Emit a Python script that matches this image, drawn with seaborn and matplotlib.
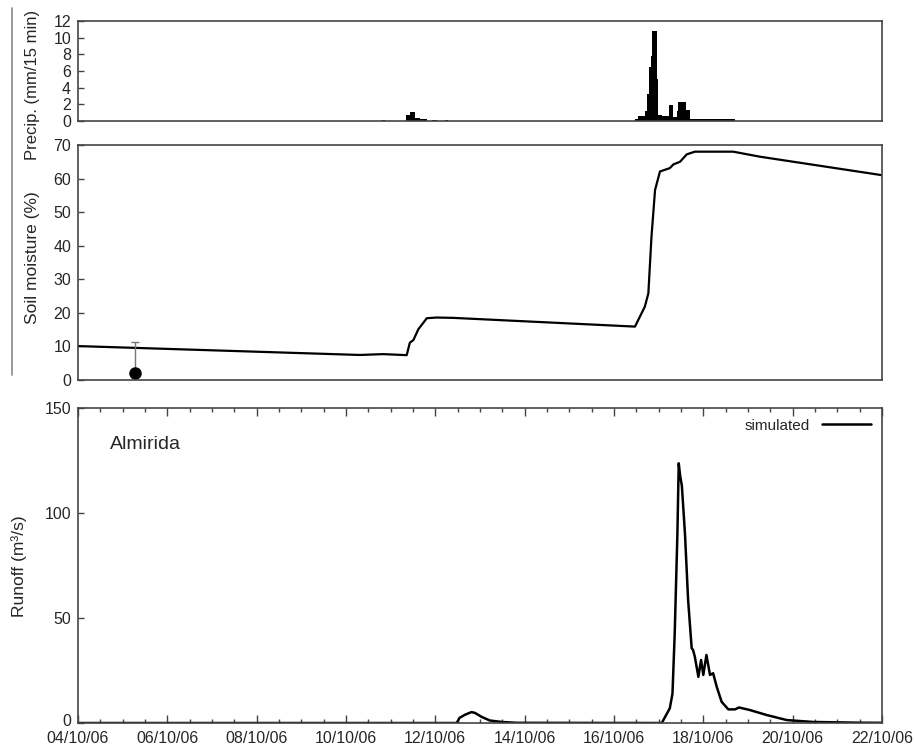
import matplotlib
matplotlib.use("Agg")
import matplotlib.pyplot as plt
import matplotlib.dates as mdates
import matplotlib.transforms as mtransforms
from matplotlib.lines import Line2D
import seaborn as sns
import pandas as pd
import numpy as np

# time origin of the record
start = pd.Timestamp("2006-10-04 00:00")
end = pd.Timestamp("2006-10-22 00:00")

# precipitation, step values (hours since start, mm/15 min)
precip_hours = [0, 163.2, 165.0, 176.2, 178.4, 181.1, 183.8, 187.4, 190.0, 192.7,
                197.2, 199.0, 299.3, 301.1, 304.7, 305.6, 306.8, 307.9, 308.6,
                311.0, 311.8, 313.6, 317.7, 319.9, 321.7, 322.6, 326.5, 328.9,
                331.9, 334.2, 344.0, 346.0, 353.0, 432.0]
precip_mm = [0, 0.1, 0, 0.7, 1.1, 0.35, 0.3, 0, 0.08, 0,
             0.08, 0, 0.3, 0.6, 1.2, 3.2, 6.5, 7.8, 10.8,
             5.1, 0.7, 0.6, 1.9, 0.5, 1.2, 2.3, 1.3, 0.3,
             0.2, 0.2, 0.3, 0.2, 0, 0]

# soil moisture (days since start, %)
soil_days = [0, 6.31, 6.83, 7.36, 7.43, 7.51, 7.62, 7.81, 8.03, 8.40, 12.47,
             12.69, 12.77, 12.84, 12.92, 13.03, 13.25, 13.33, 13.48, 13.63,
             13.81, 14.67, 15.27, 18.0]
soil_pct = [10.1, 7.45, 7.7, 7.4, 11.1, 11.9, 15.1, 18.4, 18.6, 18.5, 15.9,
            21.8, 25.8, 42.7, 56.6, 62.1, 63.1, 64.2, 65.0, 67.2,
            68.0, 68.0, 66.5, 61.0]

# observed soil moisture with error
obs_day = [1.28]
obs_pct = [2.2]
obs_err = [9.0]

# simulated runoff (days since start, m3/s)
runoff_days = [0, 8.48, 8.54, 8.66, 8.81, 8.89, 9.04, 9.22, 9.49, 9.82, 13.07,
               13.25, 13.31, 13.36, 13.42, 13.45, 13.48, 13.52, 13.59, 13.66,
               13.74, 13.77, 13.81, 13.89, 13.95, 14.00, 14.07, 14.15, 14.22,
               14.30, 14.41, 14.56, 14.71, 14.80, 15.04, 15.42, 15.87, 16.46,
               17.51, 18.0]
runoff_m3s = [0, 0, 2.4, 3.9, 5.2, 4.8, 2.9, 1.2, 0.5, 0.1, 0,
              7.0, 14.0, 42.7, 90.0, 123.7, 118.0, 113.0, 90.0, 58.6,
              35.6, 34.8, 31.6, 22.0, 30.0, 22.9, 32.4, 22.9, 23.7,
              17.3, 10.1, 6.5, 6.5, 7.4, 6.2, 3.8, 1.4, 0.5,
              0.15, 0.1]

precip = pd.DataFrame({"time": start + pd.to_timedelta(precip_hours, unit="h"),
                       "mm": precip_mm})
soil = pd.DataFrame({"time": start + pd.to_timedelta(soil_days, unit="D"),
                     "pct": soil_pct})
runoff = pd.DataFrame({"time": start + pd.to_timedelta(runoff_days, unit="D"),
                       "q": runoff_m3s})
obs_time = start + pd.to_timedelta(obs_day, unit="D")

sns.set_theme(style="ticks")
plt.rcParams["font.family"] = ["Liberation Sans", "DejaVu Sans"]
plt.rcParams["axes.edgecolor"] = "#444444"
plt.rcParams["axes.linewidth"] = 1.2
plt.rcParams["xtick.direction"] = "in"
plt.rcParams["ytick.direction"] = "in"

fig = plt.figure(figsize=(9.15, 7.48), dpi=100)
ax1 = fig.add_axes([0.0852, 0.8382, 0.8787, 0.1337])
ax2 = fig.add_axes([0.0852, 0.4920, 0.8787, 0.3142])
ax3 = fig.add_axes([0.0852, 0.0334, 0.8787, 0.4211])

# precipitation bars
ax1.fill_between(precip["time"], precip["mm"], step="post", color="black", linewidth=0)
ax1.set_ylim(0, 12)
ax1.set_yticks(range(0, 13, 2))
ax1.set_ylabel("Precip. (mm/15 min)", fontsize=12)
ax1.yaxis.set_label_coords(-0.047, 0.36)

# soil moisture
sns.lineplot(data=soil, x="time", y="pct", ax=ax2, color="black", linewidth=1.6)
ax2.errorbar(obs_time, obs_pct, yerr=obs_err, fmt="o", color="black", markersize=8,
             ecolor="#777777", elinewidth=1, capsize=3, capthick=1)
ax2.set_ylim(0, 70)
ax2.set_yticks(range(0, 71, 10))
ax2.set_ylabel("Soil moisture (%)", fontsize=12.5)
ax2.yaxis.set_label_coords(-0.047, 0.52)

# runoff
sns.lineplot(data=runoff, x="time", y="q", ax=ax3, color="black", linewidth=1.8,
             label="simulated")
ax3.set_ylim(0, 150)
ax3.set_yticks([0, 50, 100, 150])
ax3.set_ylabel("Runoff (m\u00b3/s)", fontsize=12.5)
ax3.yaxis.set_label_coords(-0.063, 0.498)
ax3.text(0.04, 0.883, "Almirida", transform=ax3.transAxes, fontsize=14, va="center")
leg = ax3.legend(loc="upper right", frameon=False, markerfirst=False, fontsize=11,
                 handlelength=3.2, borderaxespad=0.3)

for ax in (ax1, ax2, ax3):
    ax.set_xlim(start, end)
    ax.set_xlabel("")
    ax.tick_params(axis="y", labelsize=11.5, length=4, width=1, color="#444444", pad=5)

for ax in (ax1, ax2):
    ax.tick_params(axis="x", which="both", bottom=False, top=False, labelbottom=False)

ax3.xaxis.set_major_locator(mdates.DayLocator(interval=2))
ax3.xaxis.set_minor_locator(mdates.HourLocator(byhour=[0, 12]))
ax3.xaxis.set_major_formatter(mdates.DateFormatter("%d/%m/%y"))
ax3.tick_params(axis="x", which="major", top=True, length=6, width=1,
                color="#444444", labelsize=11.5, pad=5.5)
ax3.tick_params(axis="x", which="minor", top=True, length=3, width=1, color="#444444")

# nudge the bottom "0" up a little so it clears the first date label
zero_lab = ax3.yaxis.get_major_ticks()[0].label1
zero_lab.set_transform(zero_lab.get_transform()
                       + mtransforms.ScaledTranslation(0, 2.5 / 72, fig.dpi_scale_trans))

# grey rule at the left margin
fig.add_artist(Line2D([12 / 915, 12 / 915], [1 - 8 / 748, 1 - 375 / 748],
                      color="#888888", linewidth=1.2))

fig.savefig("out.png", dpi=100)
